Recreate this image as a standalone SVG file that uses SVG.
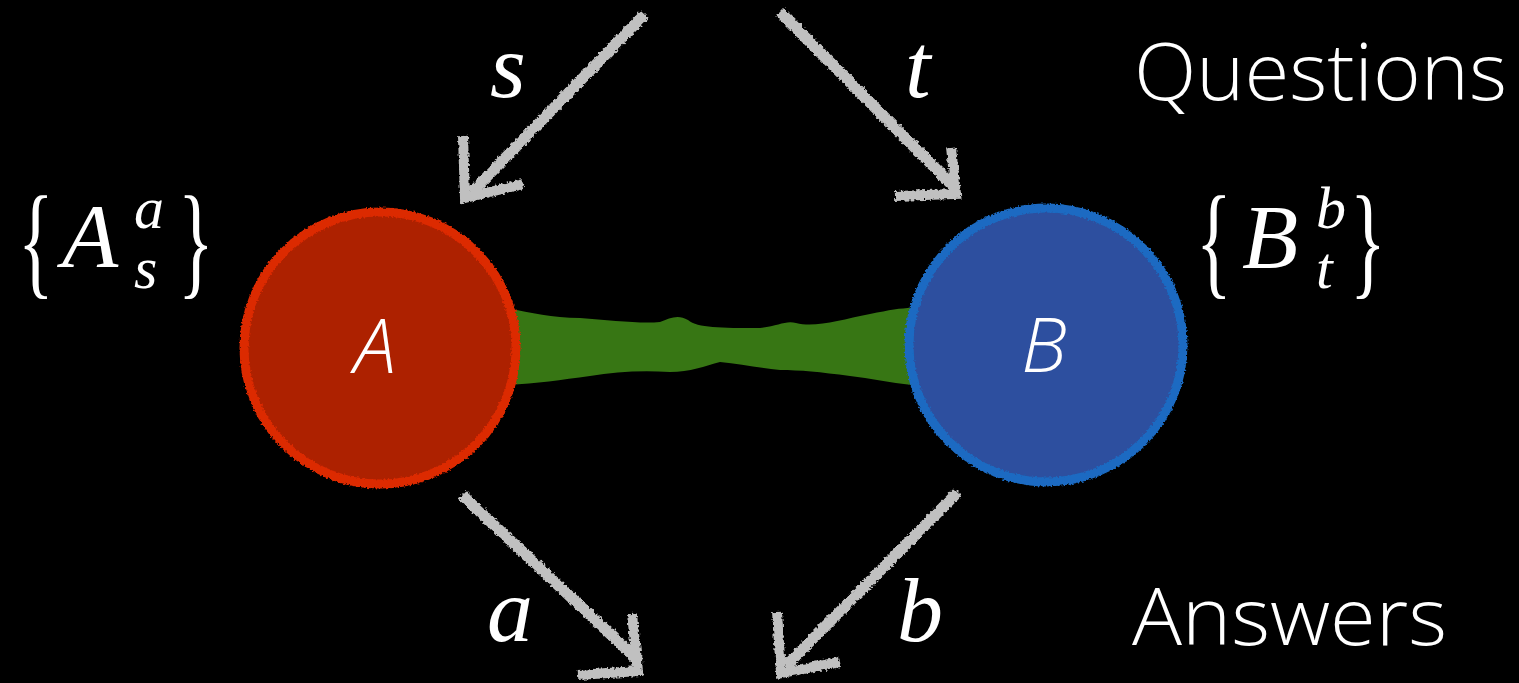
<svg xmlns="http://www.w3.org/2000/svg" width="1519" height="683" viewBox="0 0 1519 683">
<defs>
<filter id="rough" x="-10%" y="-10%" width="120%" height="120%">
<feTurbulence type="fractalNoise" baseFrequency="0.35" numOctaves="2" seed="3" result="n"/>
<feDisplacementMap in="SourceGraphic" in2="n" scale="5" xChannelSelector="R" yChannelSelector="G"/>
</filter>
<filter id="roughring" x="-10%" y="-10%" width="120%" height="120%">
<feTurbulence type="fractalNoise" baseFrequency="0.5" numOctaves="2" seed="7" result="n"/>
<feDisplacementMap in="SourceGraphic" in2="n" scale="4" xChannelSelector="R" yChannelSelector="G"/>
</filter>
<style>
.arr{fill:none;stroke:#c0c0c0;stroke-linecap:butt;stroke-linejoin:miter}
.shaft{stroke-width:11}
.arm{stroke-width:10}
.lbl{font-family:"Liberation Serif","DejaVu Serif",serif;font-style:italic;fill:#fff;font-size:92px}
.math{font-family:"Liberation Serif","DejaVu Serif",serif;fill:#fff}
.brace{font-family:"Liberation Serif","DejaVu Serif",serif;fill:#fff;font-size:124px;font-weight:normal}
.side{font-family:"Open Sans","Noto Sans",sans-serif;font-weight:300;fill:#fff;font-size:80px}
.node{font-family:"Open Sans","Noto Sans",sans-serif;font-style:italic;font-weight:300;fill:#fff;font-size:76px}
</style>
</defs>
<rect width="1519" height="683" fill="#000"/>
<g id="connectors">
<g id="entanglement">
<path d="M505,308 C530,312 550,318 580,318 C610,320 640,324 660,322 C670,318 678,314 688,320 C698,328 720,328 760,328 C778,326 786,320 796,323 C815,328 840,320 870,314 C890,310 900,308 912,308 L912,385 C890,383 870,378 850,376 C820,372 800,370 780,370 C760,368 740,364 720,362 C705,366 690,372 670,372 C640,370 615,372 590,376 C560,380 535,384 505,385 Z" fill="#377614"/>
</g>
<g id="arrow-s" filter="url(#rough)">
<path class="arr shaft" d="M645,14 L472,192"/>
<path class="arr arm" d="M463,136 L465,198 L523,184"/>
</g>
<g id="arrow-t" filter="url(#rough)">
<path class="arr shaft" d="M780,12 L955,188"/>
<path class="arr arm" d="M951,148 L956,194 L895,196"/>
</g>
<g id="arrow-a" filter="url(#rough)">
<path class="arr shaft" d="M462,495 L640,662"/>
<path class="arr arm" d="M632,614 L638,671 L578,675"/>
</g>
<g id="arrow-b" filter="url(#rough)">
<path class="arr shaft" d="M958,492 L786,666"/>
<path class="arr arm" d="M777,612 L781,673 L840,662"/>
</g>
</g>
<g id="node-A">
<circle cx="380" cy="348" r="134" fill="#ad2100"/>
<circle cx="380" cy="348" r="136" fill="none" stroke="#dc2900" stroke-width="9" filter="url(#roughring)"/>
<text class="node" x="375" y="373" text-anchor="middle">A</text>
</g>
<g id="node-B">
<circle cx="1046" cy="345" r="135" fill="#2d4f9f"/>
<circle cx="1046" cy="345" r="137" fill="none" stroke="#1a6bc2" stroke-width="9" filter="url(#roughring)"/>
<text class="node" x="1044" y="372" text-anchor="middle">B</text>
</g>
<g id="labels">
<text class="lbl" x="490" y="97">s</text>
<text class="lbl" x="905" y="97">t</text>
<text class="lbl" x="487" y="641">a</text>
<text class="lbl" x="897" y="641">b</text>
<text class="side" x="1134" y="100" textLength="373" lengthAdjust="spacingAndGlyphs">Questions</text>
<text class="side" x="1132" y="645" textLength="315" lengthAdjust="spacingAndGlyphs">Answers</text>
</g>
<g id="op-A">
<text class="brace" transform="translate(18,282) scale(0.6,1)">{</text>
<text class="math" x="62" y="267" font-size="92" font-style="italic">A</text>
<text class="math" x="134" y="228" font-size="60" font-style="italic">a</text>
<text class="math" x="134" y="288" font-size="60" font-style="italic">s</text>
<text class="brace" transform="translate(178,282) scale(0.6,1)">}</text>
</g>
<g id="op-B">
<text class="brace" transform="translate(1196,282) scale(0.6,1)">{</text>
<text class="math" x="1242" y="268" font-size="92" font-style="italic">B</text>
<text class="math" x="1316" y="228" font-size="60" font-style="italic">b</text>
<text class="math" x="1316" y="288" font-size="60" font-style="italic">t</text>
<text class="brace" transform="translate(1350,282) scale(0.6,1)">}</text>
</g>
</svg>
